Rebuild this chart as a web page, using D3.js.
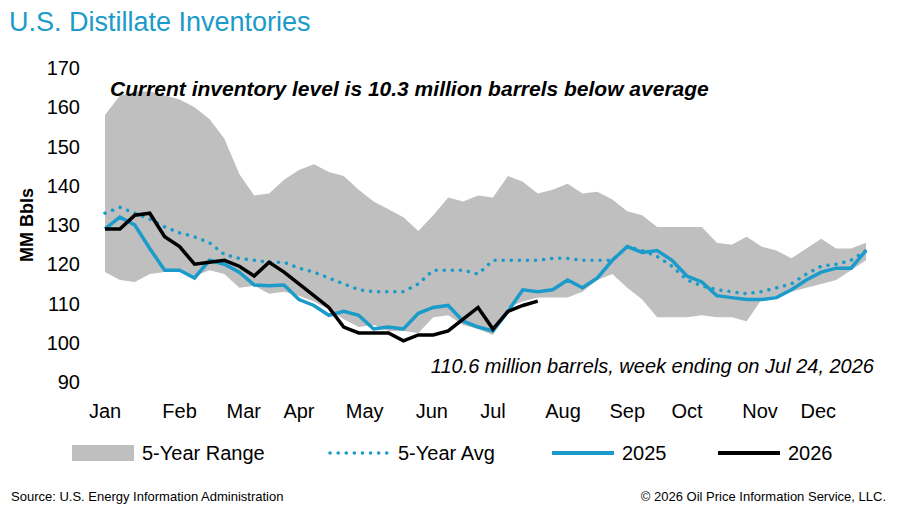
<!DOCTYPE html>
<html><head><meta charset="utf-8">
<script src="https://cdn.jsdelivr.net/npm/d3@7"></script>
<style>body{margin:0;background:#fff;font-family:Arial,"Liberation Sans",sans-serif}</style>
</head><body><svg id="c" width="901" height="518"></svg>
<script>
const months = ["Jan","Feb","Mar","Apr","May","Jun","Jul","Aug","Sep","Oct","Nov","Dec"];
const monthWeeks = [0, 5, 9.3, 13, 17.4, 21.9, 26, 30.7, 35, 39, 43.9, 47.8];
const yTicks = [90,100,110,120,130,140,150,160,170];
const rangeMax = [158,163,164,164,163,162,160,157,152,143,137.5,138,141.5,144,145.5,143.5,142.5,139,136,134,132,128.5,132.5,137,136,137.5,137,142.5,141,138,139,140.5,138,138.5,136.5,133.5,132.5,129.5,129.5,129.5,129.5,125.5,125,127,124.5,123.5,121.5,124,126.5,124,124,125.5];
const rangeMin = [118,116,115.5,117.5,118,118.5,117,118.5,117.5,114,114.5,112.5,113,112,110.5,108.5,106,104,104.5,103,103,102.5,106.5,107,104.5,103.5,102,109,110.5,111.5,111.5,111.5,113,116,117.5,114,111,106.5,106.5,106.5,107,106.5,106.5,105.5,111,112,113,114,115,116,118.5,121];
const avg5 = [133,134.5,133,131.5,129.5,128,127,125.5,122.5,121.5,121,120.5,120.5,119,118,116.5,115,113.5,113,113,113,115,118.5,118.5,118.5,117.5,121,121,121,121,121.5,121.5,121,121,121,124.5,123.5,122,119.5,116,114.5,113.5,113,112.5,113,114,115,117.5,119.5,120,121,123.5];
const y2025 = [129,132,130,124,118.5,118.5,116.5,121,120,118,114.7,114.5,114.7,111,109.5,107,108,107,103.5,104,103.5,107.5,109,109.5,105.5,104,103,108,113.5,113,113.5,116,114,116.5,121,124.5,123,123.5,121,117,115.5,112,111.5,111,111,111.5,113.5,116,118,119,119,123.5];
const y2026 = [129,129,132.5,133,127,124.5,120,120.5,121,119.5,117,120.5,118,115,112,109,104,102.5,102.5,102.5,100.5,102,102,103,106,109,103.5,108,109.5,110.6];

const svg = d3.select("#c");
const x = d3.scaleLinear().domain([0, 51]).range([105, 866]);
const y = d3.scaleLinear().domain([90, 170]).range([382, 68]);
const blue = "#1b9bc9";

svg.append("text").attr("x", 9).attr("y", 31).attr("font-size", 27).attr("fill", blue).text("U.S. Distillate Inventories");

svg.append("path").datum(rangeMax.map((d, i) => [i, d, rangeMin[i]]))
  .attr("fill", "#bfbfbf")
  .attr("d", d3.area().x(d => x(d[0])).y0(d => y(d[2])).y1(d => y(d[1])));

const line = d3.line().x((d, i) => x(i)).y(d => y(d));
svg.append("path").datum(avg5).attr("fill", "none").attr("stroke", blue).attr("stroke-width", 3.5)
  .attr("stroke-dasharray", "0.1 8").attr("stroke-linecap", "round").attr("d", line);
svg.append("path").datum(y2025).attr("fill", "none").attr("stroke", blue).attr("stroke-width", 3.5).attr("d", line);
svg.append("path").datum(y2026).attr("fill", "none").attr("stroke", "#000").attr("stroke-width", 3.5).attr("d", line);

yTicks.forEach(t => svg.append("text").attr("x", 80).attr("y", y(t) + 7).attr("text-anchor", "end")
  .attr("font-size", 20).text(t));
months.forEach((m, i) => svg.append("text").attr("x", x(monthWeeks[i])).attr("y", 418)
  .attr("text-anchor", "middle").attr("font-size", 20).text(m));

svg.append("text").attr("transform", "translate(33,225) rotate(-90)").attr("text-anchor", "middle")
  .attr("font-size", 18).attr("font-weight", "bold").text("MM Bbls");
svg.append("text").attr("x", 110).attr("y", 96).attr("font-size", 21).attr("font-weight", "bold")
  .attr("font-style", "italic").text("Current inventory level is 10.3 million barrels below average");
svg.append("text").attr("x", 874).attr("y", 373).attr("text-anchor", "end").attr("font-size", 20)
  .attr("font-style", "italic").text("110.6 million barrels, week ending on Jul 24, 2026");

const lg = 453;
svg.append("rect").attr("x", 72).attr("y", lg - 8).attr("width", 62).attr("height", 16).attr("fill", "#bfbfbf");
svg.append("text").attr("x", 142).attr("y", lg + 7).attr("font-size", 20).text("5-Year Range");
svg.append("line").attr("x1", 330).attr("x2", 388).attr("y1", lg).attr("y2", lg).attr("stroke", blue)
  .attr("stroke-width", 3.5).attr("stroke-dasharray", "0.1 8").attr("stroke-linecap", "round");
svg.append("text").attr("x", 398).attr("y", lg + 7).attr("font-size", 20).text("5-Year Avg");
svg.append("line").attr("x1", 552).attr("x2", 614).attr("y1", lg).attr("y2", lg).attr("stroke", blue).attr("stroke-width", 4);
svg.append("text").attr("x", 622).attr("y", lg + 7).attr("font-size", 20).text("2025");
svg.append("line").attr("x1", 718).attr("x2", 780).attr("y1", lg).attr("y2", lg).attr("stroke", "#000").attr("stroke-width", 4);
svg.append("text").attr("x", 788).attr("y", lg + 7).attr("font-size", 20).text("2026");

svg.append("text").attr("x", 11).attr("y", 501).attr("font-size", 13).text("Source: U.S. Energy Information Administration");
svg.append("text").attr("x", 886).attr("y", 501).attr("text-anchor", "end").attr("font-size", 13)
  .text("© 2026 Oil Price Information Service, LLC.");
</script></body></html>
